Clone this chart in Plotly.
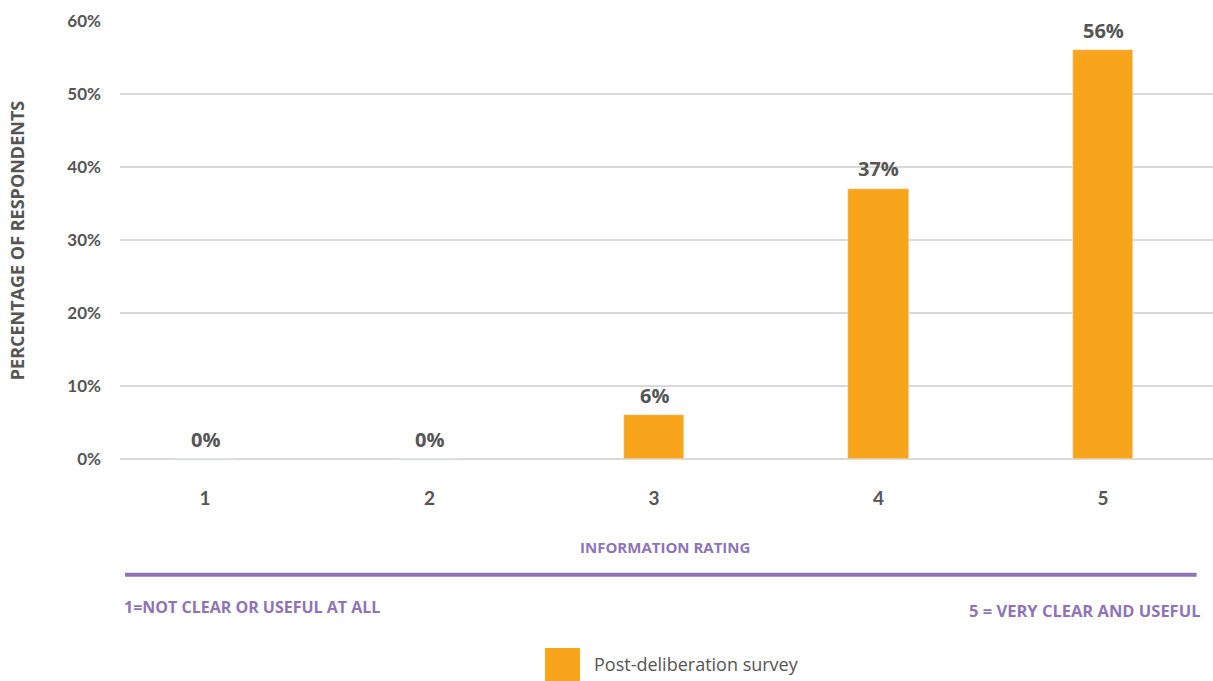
import plotly.graph_objects as go

categories = ["1", "2", "3", "4", "5"]
values = [0, 0, 6, 37, 56]
labels = ["0%", "0%", "6%", "37%", "56%"]
y_ticks = [0, 10, 20, 30, 40, 50, 60]
y_tick_labels = ["0%", "10%", "20%", "30%", "40%", "50%", "60%"]
series_name = "Post-deliberation survey"

ORANGE = "#F9A51C"
GREY = "#555555"
PURPLE = "#8E74B7"
GRID = "#D9D9D9"

x_idx = list(range(len(categories)))

fig = go.Figure()
fig.add_trace(go.Bar(
    x=x_idx, y=values, width=0.27, marker_color=ORANGE, name=series_name,
    showlegend=False, hoverinfo="skip",
))

for xi, v, lab in zip(x_idx, values, labels):
    fig.add_annotation(x=xi, y=v, text=lab, showarrow=False, yshift=20,
                       font=dict(family="Open Sans", size=20, color=GREY, weight="bold"))

fig.update_layout(
    width=1213, height=681,
    margin=dict(l=120, r=0, t=21, b=222),
    plot_bgcolor="white", paper_bgcolor="white",
    bargap=0,
    xaxis=dict(
        range=[-0.379, 4.49], tickmode="array", tickvals=x_idx, ticktext=categories,
        showgrid=False, zeroline=False, showline=False, ticks="",
        tickfont=dict(family="Lato", size=19, color=GREY, weight="bold"),
        ticklabelstandoff=26,
    ),
    yaxis=dict(
        range=[0, 60], tickmode="array", tickvals=y_ticks, ticktext=y_tick_labels,
        showgrid=True, gridcolor=GRID, gridwidth=1.5, zeroline=True, zerolinecolor=GRID,
        zerolinewidth=1.5, showline=False, ticks="",
        tickfont=dict(family="Lato", size=17, color=GREY, weight="bold"),
        ticklabelstandoff=18,
    ),
)

# y-axis title
fig.add_annotation(xref="paper", yref="paper", x=-0.094, y=0.5, xanchor="center", yanchor="middle",
                   text="PERCENTAGE OF RESPONDENTS", textangle=-90, showarrow=False,
                   font=dict(family="Open Sans", size=18, color=GREY, weight="bold"))

# x-axis title and scale explanation
fig.add_annotation(xref="paper", yref="paper", x=0.4985, y=-0.2009, xanchor="center", yanchor="middle",
                   text="INFORMATION RATING", showarrow=False,
                   font=dict(family="Open Sans", size=15, color=PURPLE, weight="bold"))
fig.add_shape(type="line", xref="paper", yref="paper", x0=0.0046, x1=0.985, y0=-0.2644, y1=-0.2644,
              line=dict(color=PURPLE, width=4))
fig.add_annotation(xref="paper", yref="paper", x=0.0018, y=-0.338, xanchor="left", yanchor="middle",
                   text="1=NOT CLEAR OR USEFUL AT ALL", showarrow=False,
                   font=dict(family="Open Sans", size=16, color=PURPLE, weight="bold"))
fig.add_annotation(xref="paper", yref="paper", x=0.9899, y=-0.345, xanchor="right", yanchor="middle",
                   text="5 = VERY CLEAR AND USEFUL", showarrow=False,
                   font=dict(family="Open Sans", size=16.5, color=PURPLE, weight="bold"))

# legend
fig.add_shape(type="rect", xref="paper", yref="paper", x0=0.3888, x1=0.4209, y0=-0.5068, y1=-0.4315,
              line=dict(width=0), fillcolor=ORANGE)
fig.add_annotation(xref="paper", yref="paper", x=0.4319, y=-0.468, xanchor="left", yanchor="middle",
                   text=series_name, showarrow=False,
                   font=dict(family="Open Sans", size=18, color=GREY))

fig.write_html("out.html")
